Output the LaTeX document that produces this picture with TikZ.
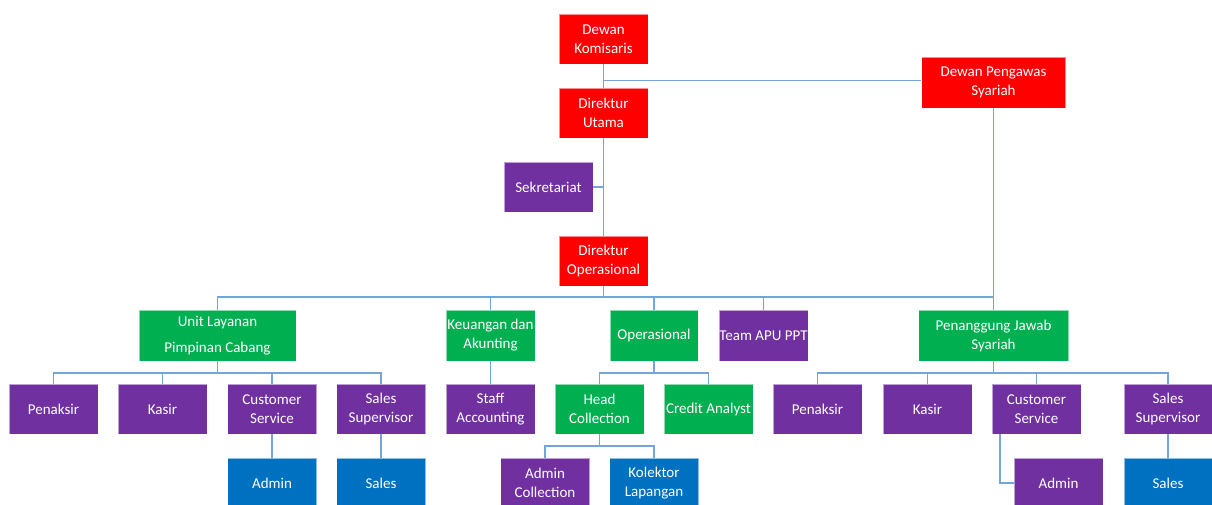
\documentclass[tikz,border=0pt]{standalone}
\usepackage{fontspec}
\setmainfont{Carlito}
\definecolor{cred}{HTML}{FF0000}
\definecolor{cpurple}{HTML}{7030A0}
\definecolor{cgreen}{HTML}{00B050}
\definecolor{cblue}{HTML}{0070C0}
\definecolor{cline}{HTML}{75A5D8}
\begin{document}
\begin{tikzpicture}[x=1pt,y=-1pt,
  box/.style={draw=white, draw opacity=0.55, line width=0.8pt, text=white, align=center,
    inner sep=0pt, minimum width=89pt, minimum height=50pt,
    font=\fontsize{15}{19}\selectfont},
  redbox/.style={box, fill=cred},
  purplebox/.style={box, fill=cpurple},
  greenbox/.style={box, fill=cgreen},
  bluebox/.style={box, fill=cblue},
  conn/.style={draw=cline, line width=1.8pt}]
\useasboundingbox (0,0) rectangle (1212,505);
\clip (0,0) rectangle (1212,505);
% top
\node[redbox] (dk) at (603.5,39) {Dewan\\Komisaris};
\node[redbox] (du) at (603.5,113) {Direktur\\Utama};
\node[redbox, minimum width=144pt, minimum height=51pt] (dps) at (993.5,82.5) {Dewan Pengawas\\Syariah};
\node[purplebox] (sek) at (548.5,187) {Sekretariat};
\node[redbox] (dop) at (603.5,261) {Direktur\\Operasional};
% level 2
\node[greenbox, minimum width=157pt, minimum height=51pt, font=\fontsize{15}{26}\selectfont] (ulpc) at (217.5,335.5) {Unit Layanan\\Pimpinan Cabang};
\node[greenbox, minimum height=51pt] (ka) at (490.5,335.5) {Keuangan dan\\Akunting};
\node[greenbox, minimum width=88pt, minimum height=51pt] (ops) at (654,335.5) {Operasional};
\node[purplebox, minimum height=51pt] (apu) at (763.5,335.5) {Team APU PPT};
\node[greenbox, minimum width=150pt, minimum height=51pt] (pjs) at (993.5,335.5) {Penanggung Jawab\\Syariah};
% level 3
\node[purplebox] (pen1) at (53.5,409) {Penaksir};
\node[purplebox] (kas1) at (162.5,409) {Kasir};
\node[purplebox] (cs1) at (272,409) {Customer\\Service};
\node[purplebox] (ss1) at (381,409) {Sales\\Supervisor};
\node[purplebox] (sa) at (490.5,409) {Staff\\Accounting};
\node[greenbox] (hc) at (599.5,409) {Head\\Collection};
\node[greenbox] (ca) at (708.5,409) {Credit Analyst};
\node[purplebox] (pen2) at (817.5,409) {Penaksir};
\node[purplebox] (kas2) at (927.5,409) {Kasir};
\node[purplebox] (cs2) at (1036.5,409) {Customer\\Service};
\node[purplebox, minimum width=88pt] (ss2) at (1168,409) {Sales\\Supervisor};
% level 4
\node[bluebox] (adm1) at (272,483) {Admin};
\node[bluebox] (sal1) at (381,483) {Sales};
\node[purplebox] (ac) at (545,483) {Admin\\Collection};
\node[bluebox] (kl) at (654,483) {Kolektor\\Lapangan};
\node[purplebox] (adm2) at (1058.5,483) {Admin};
\node[bluebox, minimum width=88pt] (sal2) at (1168,483) {Sales};
% bus coordinates
\coordinate (bus) at (0,297);
\coordinate (b2) at (0,373);
\coordinate (b3) at (0,446);
% connectors
\draw[conn] (dk.south) -- (du.north);
\draw[conn] (dk.south |- 0,80.5) -- (dps.west |- 0,80.5);
\draw[conn] (du.south) -- (dop.north);
\draw[conn] (sek.east) -- (du.south |- sek.east);
\draw[conn] (dop.south) -- (dop.south |- bus);
\draw[conn] (ulpc.north) |- (pjs.north |- bus);
\draw[conn] (dps.south) -- (pjs.north);
\draw[conn] (ka.north) -- (ka.north |- bus);
\draw[conn] (ops.north) -- (ops.north |- bus);
\draw[conn] (apu.north) -- (apu.north |- bus);
% ulpc children
\draw[conn] (ulpc.south) -- (ulpc.south |- b2);
\draw[conn] (pen1.north) |- (ss1.north |- b2) -- (ss1.north);
\draw[conn] (kas1.north) -- (kas1.north |- b2);
\draw[conn] (cs1.north) -- (cs1.north |- b2);
\draw[conn] (cs1.south) -- (adm1.north);
\draw[conn] (ss1.south) -- (sal1.north);
% keuangan
\draw[conn] (ka.south) -- (sa.north);
% operasional
\draw[conn] (ops.south) -- (ops.south |- b2);
\draw[conn] (hc.north) |- (ca.north |- b2) -- (ca.north);
\draw[conn] (hc.south) -- (hc.south |- b3);
\draw[conn] (ac.north) |- (kl.north |- b3) -- (kl.north);
% pjs children
\draw[conn] (pjs.south) -- (pjs.south |- b2);
\draw[conn] (pen2.north) |- (ss2.north |- b2) -- (ss2.north);
\draw[conn] (kas2.north) -- (kas2.north |- b2);
\draw[conn] (cs2.north) -- (cs2.north |- b2);
\draw[conn] ([xshift=-36.5pt]cs2.south) |- (adm2.west);
\draw[conn] (ss2.south) -- (sal2.north);
\end{tikzpicture}
\end{document}
